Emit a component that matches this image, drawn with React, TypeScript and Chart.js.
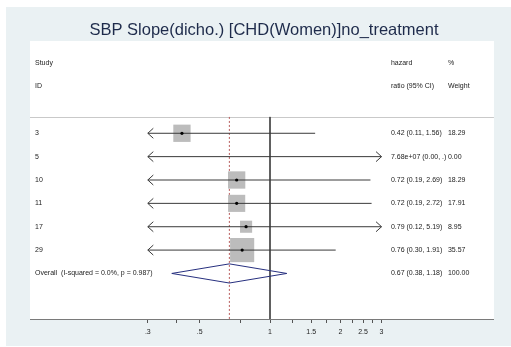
import React, { useEffect, useRef } from 'react';
import { Chart, registerables } from 'chart.js';

Chart.register(...registerables);

// ---- data ----
const TITLE = 'SBP Slope(dicho.) [CHD(Women)]no_treatment';
const studyIds = ['3', '5', '10', '11', '17', '29'];
const hazardRatios = [0.42, 7.68e7, 0.72, 0.72, 0.79, 0.76];
const ciLower = [0.11, 0.0, 0.19, 0.19, 0.12, 0.3];
const ciUpper: (number | null)[] = [1.56, null, 2.69, 2.72, 5.19, 1.91];
const weights = [18.29, 0.0, 18.29, 17.91, 8.95, 35.57];

const overallLabel = 'Overall  (I-squared = 0.0%, p = 0.987)';
const overallHR = 0.67;
const overallLower = 0.38;
const overallUpper = 1.18;
const overallWeight = 100.0;

const majorTicks = [0.3, 0.5, 1, 1.5, 2, 2.5, 3];
const majorTickLabels = ['.3', '.5', '1', '1.5', '2', '2.5', '3'];
const minorTicks = [0.4, 0.75, 1.25, 1.75, 2.25, 2.75];

const headerStudy = ['Study', 'ID'];
const headerEffect = ['hazard', 'ratio (95% CI)'];
const headerWeight = ['%', 'Weight'];

// ---- layout / style ----
const W = 511;
const H = 347;
const AXIS_MIN = majorTicks[0];
const AXIS_MAX = majorTicks[majorTicks.length - 1];
const X_MIN = 0.094;
const X_MAX = 9.08;
const Y_MIN = -0.95;
const Y_MAX = 10.95;
const FIRST_STUDY_ROW = 3;
const OVERALL_ROW = FIRST_STUDY_ROW + studyIds.length;
const RULE_ROW = 2.3;
const DIAMOND_HALF = 0.41;
const BOX_SCALE = 2.86;

const FONT = '"Liberation Sans", Arial, sans-serif';
const TEXT_COLOR = '#222222';
const CI_COLOR = '#3a3a3a';
const BOX_COLOR = '#bcbcbc';
const DIAMOND_COLOR = '#27307f';
const NULL_COLOR = '#4a4a4a';
const OVERALL_COLOR = '#b85c5c';
const OUTER_BG = '#eaf1f3';

const rowOf = (i: number) => FIRST_STUDY_ROW + i;
const clampAxis = (v: number) => Math.min(AXIS_MAX, Math.max(AXIS_MIN, v));

function fmt(v: number | null): string {
  if (v === null) return '.';
  if (Math.abs(v) >= 1e5) {
    return v.toExponential(2).replace(/e([+-])(\d)$/, 'e$10$2');
  }
  return v.toFixed(2);
}

const ciText = (hr: number, lo: number, hi: number | null) =>
  `${fmt(hr)} (${fmt(lo)}, ${fmt(hi)})`;

const forestPlugin = {
  id: 'forestDecor',
  beforeDraw(chart: any) {
    const { ctx, chartArea } = chart;
    ctx.save();
    ctx.fillStyle = '#ffffff';
    ctx.fillRect(0, 0, W, H);
    ctx.fillStyle = OUTER_BG;
    ctx.fillRect(6, 7, W - 6, H - 8);
    ctx.fillStyle = '#ffffff';
    ctx.fillRect(chartArea.left, chartArea.top, chartArea.right - chartArea.left, chartArea.bottom - chartArea.top);
    ctx.restore();
  },
  beforeDatasetsDraw(chart: any) {
    const { ctx, chartArea, scales } = chart;
    const y = Math.round(scales.y.getPixelForValue(RULE_ROW)) + 0.5;
    ctx.save();
    ctx.strokeStyle = '#c9c9c9';
    ctx.lineWidth = 1;
    ctx.beginPath();
    ctx.moveTo(chartArea.left, y);
    ctx.lineTo(chartArea.right, y);
    ctx.stroke();
    ctx.restore();
  },
  afterDatasetsDraw(chart: any) {
    const { ctx, chartArea, scales } = chart;
    const xs = scales.x;
    const ys = scales.y;
    const colStudy = chartArea.left + 5;
    const colEffect = chartArea.right - 103;
    const colWeight = chartArea.right - 46;

    ctx.save();
    // open arrowheads where a confidence interval runs past the axis
    ctx.strokeStyle = CI_COLOR;
    ctx.lineWidth = 1;
    const xl = xs.getPixelForValue(AXIS_MIN);
    const xr = xs.getPixelForValue(AXIS_MAX);
    studyIds.forEach((_, i) => {
      const y = ys.getPixelForValue(rowOf(i));
      if (ciLower[i] <= AXIS_MIN) {
        ctx.beginPath();
        ctx.moveTo(xl + 5.5, y - 5);
        ctx.lineTo(xl, y);
        ctx.lineTo(xl + 5.5, y + 5);
        ctx.stroke();
      }
      const hi = ciUpper[i];
      if (hi === null || hi >= AXIS_MAX) {
        ctx.beginPath();
        ctx.moveTo(xr - 5.5, y - 5);
        ctx.lineTo(xr, y);
        ctx.lineTo(xr - 5.5, y + 5);
        ctx.stroke();
      }
    });

    // text columns
    ctx.fillStyle = TEXT_COLOR;
    ctx.font = `7px ${FONT}`;
    ctx.textBaseline = 'middle';
    ctx.textAlign = 'left';
    headerStudy.forEach((t, r) => ctx.fillText(t, colStudy, ys.getPixelForValue(r)));
    headerEffect.forEach((t, r) => ctx.fillText(t, colEffect, ys.getPixelForValue(r)));
    headerWeight.forEach((t, r) => ctx.fillText(t, colWeight, ys.getPixelForValue(r)));

    studyIds.forEach((id, i) => {
      const y = ys.getPixelForValue(rowOf(i));
      ctx.fillText(id, colStudy, y);
      ctx.fillText(ciText(hazardRatios[i], ciLower[i], ciUpper[i]), colEffect, y);
      ctx.fillText(weights[i].toFixed(2), colWeight, y);
    });

    const yo = ys.getPixelForValue(OVERALL_ROW);
    ctx.fillText(overallLabel, colStudy, yo);
    ctx.fillText(ciText(overallHR, overallLower, overallUpper), colEffect, yo);
    ctx.fillText(overallWeight.toFixed(2), colWeight, yo);
    ctx.restore();
  },
};

export default function App() {
  const canvasRef = useRef<HTMLCanvasElement | null>(null);

  useEffect(() => {
    document.body.style.margin = '0';
    const canvas = canvasRef.current;
    if (!canvas) return;

    const inAxis = (v: number) => v >= AXIS_MIN && v <= AXIS_MAX;

    const datasets: any[] = [];

    // point estimate markers (drawn on top)
    datasets.push({
      data: hazardRatios.map((v, i) => ({ x: v, y: rowOf(i) })),
      pointStyle: 'circle',
      pointRadius: (c: any) => (inAxis(hazardRatios[c.dataIndex]) ? 1.6 : 0),
      backgroundColor: '#000000',
      borderWidth: 0,
    });

    // confidence interval lines
    studyIds.forEach((_, i) => {
      datasets.push({
        showLine: true,
        data: [
          { x: clampAxis(ciLower[i]), y: rowOf(i) },
          { x: clampAxis(ciUpper[i] === null ? Infinity : (ciUpper[i] as number)), y: rowOf(i) },
        ],
        borderColor: CI_COLOR,
        borderWidth: 1,
        pointRadius: 0,
      });
    });

    // weight boxes
    datasets.push({
      data: hazardRatios.map((v, i) => ({ x: v, y: rowOf(i) })),
      pointStyle: 'rect',
      pointRadius: (c: any) => BOX_SCALE * Math.sqrt(weights[c.dataIndex]),
      backgroundColor: BOX_COLOR,
      borderWidth: 0,
    });

    // pooled estimate diamond
    datasets.push({
      showLine: true,
      data: [
        { x: overallLower, y: OVERALL_ROW },
        { x: overallHR, y: OVERALL_ROW - DIAMOND_HALF },
        { x: overallUpper, y: OVERALL_ROW },
        { x: overallHR, y: OVERALL_ROW + DIAMOND_HALF },
        { x: overallLower, y: OVERALL_ROW },
      ],
      borderColor: DIAMOND_COLOR,
      borderWidth: 1,
      pointRadius: 0,
      tension: 0,
    });

    // pooled estimate reference (dashed)
    datasets.push({
      showLine: true,
      data: [
        { x: overallHR, y: RULE_ROW },
        { x: overallHR, y: Y_MAX },
      ],
      borderColor: OVERALL_COLOR,
      borderWidth: 1,
      borderDash: [2, 2],
      pointRadius: 0,
    });

    // line of no effect
    datasets.push({
      showLine: true,
      data: [
        { x: 1, y: RULE_ROW },
        { x: 1, y: Y_MAX },
      ],
      borderColor: NULL_COLOR,
      borderWidth: 1,
      pointRadius: 0,
    });

    const allTicks = [...majorTicks, ...minorTicks].sort((a, b) => a - b);

    const chart = new Chart(canvas, {
      type: 'scatter',
      data: { datasets },
      options: {
        responsive: false,
        animation: false,
        events: [],
        devicePixelRatio: 1,
        layout: { padding: { left: 30, right: 13, top: 0, bottom: 5.6 } },
        plugins: {
          legend: { display: false },
          tooltip: { enabled: false },
          title: {
            display: true,
            text: TITLE,
            color: '#1e2b4b',
            font: { family: FONT, size: 16.5, weight: 'normal', lineHeight: 1.2 },
            padding: { top: 20.1, bottom: 1.1 },
          },
        },
        scales: {
          x: {
            type: 'logarithmic',
            min: X_MIN,
            max: X_MAX,
            afterBuildTicks: (scale: any) => {
              scale.ticks = allTicks.map((v) => ({ value: v }));
            },
            afterFit: (scale: any) => {
              scale.paddingLeft = 0;
              scale.paddingRight = 0;
            },
            grid: {
              display: true,
              drawOnChartArea: false,
              drawTicks: true,
              tickLength: 4,
              color: '#555555',
              lineWidth: 1,
            },
            border: { display: true, color: '#7a7a7a', width: 1 },
            ticks: {
              autoSkip: false,
              maxRotation: 0,
              minRotation: 0,
              padding: 5,
              color: TEXT_COLOR,
              font: { family: FONT, size: 7 },
              callback: (value: any) => {
                const idx = majorTicks.findIndex((t) => Math.abs(t - Number(value)) < 1e-9);
                return idx >= 0 ? majorTickLabels[idx] : '';
              },
            },
          },
          y: {
            type: 'linear',
            display: false,
            reverse: true,
            min: Y_MIN,
            max: Y_MAX,
          },
        },
      },
      plugins: [forestPlugin],
    } as any);

    return () => chart.destroy();
  }, []);

  return <canvas ref={canvasRef} width={W} height={H} style={{ display: 'block' }} />;
}
